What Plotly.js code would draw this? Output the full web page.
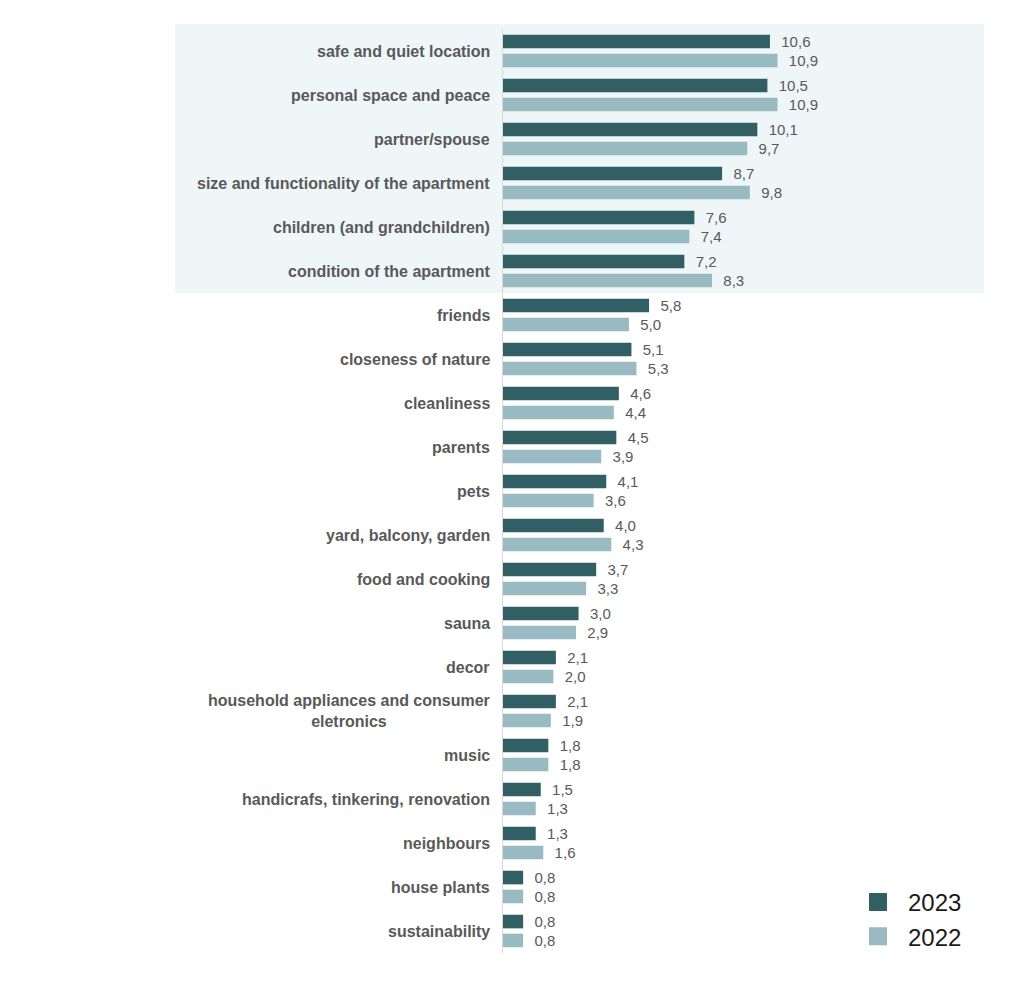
<!DOCTYPE html>
<html>
<head>
<meta charset="utf-8">
<script src="https://cdn.plot.ly/plotly-3.0.1.min.js"></script>
<style>html,body{margin:0;padding:0;background:#fff;}#chart{width:1024px;height:1000px;}</style>
</head>
<body>
<div id="chart"></div>
<script>
var categories = [
  "safe and quiet location",
  "personal space and peace",
  "partner/spouse",
  "size and functionality of the apartment",
  "children (and grandchildren)",
  "condition of the apartment",
  "friends",
  "closeness of nature",
  "cleanliness",
  "parents",
  "pets",
  "yard, balcony, garden",
  "food and cooking",
  "sauna",
  "decor",
  "household appliances and consumer<br>eletronics",
  "music",
  "handicrafs, tinkering, renovation",
  "neighbours",
  "house plants",
  "sustainability"
];
var values2023 = [10.6, 10.5, 10.1, 8.7, 7.6, 7.2, 5.8, 5.1, 4.6, 4.5, 4.1, 4.0, 3.7, 3.0, 2.1, 2.1, 1.8, 1.5, 1.3, 0.8, 0.8];
var values2022 = [10.9, 10.9, 9.7, 9.8, 7.4, 8.3, 5.0, 5.3, 4.4, 3.9, 3.6, 4.3, 3.3, 2.9, 2.0, 1.9, 1.8, 1.3, 1.6, 0.8, 0.8];
var seriesNames = ["2023", "2022"];
var highlightedCount = 6;

var colors = ["#325f64", "#98bac0"];
var fmt = function (v) { return "\u00a0\u00a0" + v.toFixed(1).replace(".", ","); };

function barTrace(vals, i) {
  return {
    type: "bar", orientation: "h",
    x: vals, y: categories,
    name: seriesNames[i],
    marker: { color: colors[i] },
    text: vals.map(fmt),
    textposition: "outside",
    textfont: { family: "Liberation Sans, Arial, sans-serif", size: 15, color: "#595959" },
    constraintext: "none",
    cliponaxis: false,
    hoverinfo: "skip",
    showlegend: false
  };
}
function legendTrace(i) {
  return {
    type: "scatter", mode: "markers",
    x: [null], y: [null],
    name: seriesNames[i],
    marker: { symbol: "square", size: 16, color: colors[i], line: { color: colors[i], width: 2 } },
    hoverinfo: "skip"
  };
}

var data = [barTrace(values2023, 0), barTrace(values2022, 1), legendTrace(0), legendTrace(1)];

var annotations = categories.map(function (c) {
  return {
    xref: "paper", yref: "y", x: 0, y: c,
    xanchor: "right", yanchor: "middle", xshift: -11,
    align: "center", showarrow: false, text: c,
    font: { family: "Liberation Sans, Arial, sans-serif", size: 16, color: "#595959", weight: "bold" }
  };
});

var plotW = 481, plotH = 924;
var layout = {
  width: 1024, height: 1000,
  margin: { l: 503, r: 40, t: 29, b: 47, autoexpand: false },
  paper_bgcolor: "#ffffff", plot_bgcolor: "rgba(0,0,0,0)",
  font: { family: "Liberation Sans, Arial, sans-serif" },
  barmode: "group", bargap: 0.14, bargroupgap: 0.28,
  xaxis: { range: [0, 19.1], visible: false, showgrid: false, zeroline: false, fixedrange: true },
  yaxis: {
    type: "category", autorange: "reversed",
    showticklabels: false, ticks: "", showgrid: false, zeroline: false,
    showline: true, linecolor: "#d9d9d9", linewidth: 1, fixedrange: true
  },
  shapes: [{
    type: "rect", xref: "paper", yref: "paper", layer: "below",
    x0: (175 - 503) / plotW, x1: 1.0,
    y0: 1 - highlightedCount / categories.length, y1: 1 + 5 / plotH,
    fillcolor: "#eef6f8", line: { width: 0 }
  }],
  annotations: annotations,
  showlegend: true,
  legend: {
    xref: "paper", yref: "paper",
    x: (848 - 503) / plotW, xanchor: "left",
    y: (952 - 918.5) / plotH, yanchor: "middle",
    itemwidth: 50, bgcolor: "rgba(0,0,0,0)",
    font: { family: "Liberation Sans, Arial, sans-serif", size: 24, color: "#1a1a1a" }
  }
};

Plotly.newPlot("chart", data, layout, { displayModeBar: false, staticPlot: true });
</script>
</body>
</html>
